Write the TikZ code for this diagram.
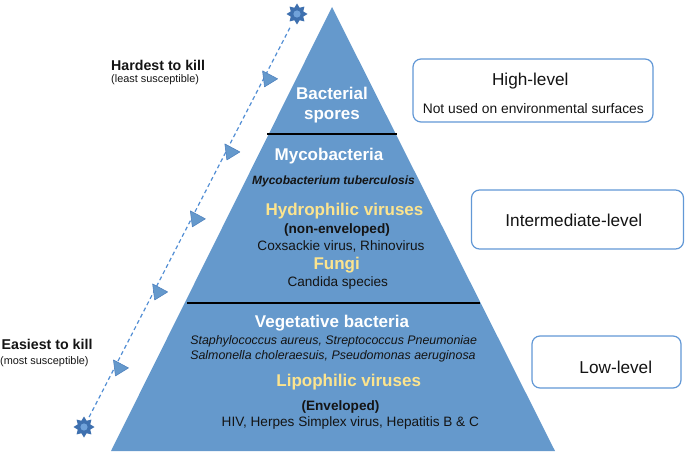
\documentclass[tikz,border=0pt]{standalone}
\usepackage{fontspec}
\setmainfont{Liberation Sans}
\usetikzlibrary{shapes.geometric,calc}
\definecolor{pyr}{RGB}{101,153,204}
\definecolor{pyredge}{RGB}{80,130,190}
\definecolor{yel}{RGB}{252,228,142}
\definecolor{boxb}{RGB}{98,152,214}
\definecolor{stard}{RGB}{62,112,175}
\definecolor{starl}{RGB}{112,162,218}
\definecolor{dashc}{RGB}{82,142,212}
\definecolor{txt}{RGB}{20,20,20}
\tikzset{
  lbl/.style={inner sep=0pt, anchor=base, text=txt},
  headw/.style={lbl, text=white, font=\fontsize{17}{20}\selectfont\bfseries},
  heady/.style={lbl, text=yel, font=\fontsize{17}{20}\selectfont\bfseries},
  spec/.style={lbl, font=\fontsize{12.4}{14}\selectfont\itshape},
  specb/.style={lbl, font=\fontsize{12}{14}\selectfont\bfseries\itshape},
  plain/.style={lbl, font=\fontsize{13.6}{16}\selectfont},
  plainb/.style={lbl, font=\fontsize{13.6}{16}\selectfont\bfseries},
  sidebig/.style={lbl, anchor=base west, font=\fontsize{14.2}{17}\selectfont\bfseries},
  sidesmall/.style={lbl, anchor=base west, font=\fontsize{10.9}{13}\selectfont},
  lvlbox/.style={draw=boxb, line width=1.2pt, rounded corners=8pt, fill=white, inner sep=0pt},
  lvltxt/.style={lbl, font=\fontsize{17.2}{20}\selectfont},
  lvlsub/.style={lbl, font=\fontsize{13.8}{16}\selectfont},
  divider/.style={black, line width=2pt},
  starshape/.style={star, star points=8, star point ratio=1.55, fill=stard, draw=none, minimum size=21pt, inner sep=0pt},
  dashline/.style={dashc, line width=1.2pt, dash pattern=on 4pt off 3pt},
  marker/.style={fill=pyr, draw=pyredge, line width=0.6pt, line join=round}
}
\begin{document}
\begin{tikzpicture}[x=1pt,y=-1pt]
\useasboundingbox (0,0) rectangle (685,454);

% pyramid
\fill[pyr] (332,7) -- (555,451) -- (111,451) -- cycle;
\draw[divider] (267,134) -- (397,134);
\draw[divider] (187,303) -- (480,303);

% pyramid texts
\node[headw] (bact) at (332,100) {Bacterial};
\node[headw] (spor) at (332,120) {spores};
\node[headw] (myco) at (329,160.5) {Mycobacteria};
\node[specb] (mtub) at (333.5,184.3) {Mycobacterium tuberculosis};
\node[heady] (hydro) at (344.5,216) {Hydrophilic viruses};
\node[plainb] (nonenv) at (337,233.3) {(non-enveloped)};
\node[plain] (coxs) at (341,250.7) {Coxsackie virus, Rhinovirus};
\node[heady] (fungi) at (336.7,269.3) {Fungi};
\node[plain] (cand) at (337.8,286.7) {Candida species};
\node[headw] (veg) at (332,327.7) {Vegetative bacteria};
\node[spec] (staph) at (333.7,344.3) {Staphylococcus aureus, Streptococcus Pneumoniae};
\node[spec] (salm) at (333,359.3) {Salmonella choleraesuis, Pseudomonas aeruginosa};
\node[heady] (lipo) at (348.7,386.7) {Lipophilic viruses};
\node[plainb] (env) at (340.5,410) {(Enveloped)};
\node[plain] (hiv) at (350.3,426.7) {HIV, Herpes Simplex virus, Hepatitis B \& C};

% side labels
\node[sidebig] (hard) at (111,70.7) {Hardest to kill};
\node[sidesmall] (least) at (111,82.7) {(least susceptible)};
\node[sidebig] (easy) at (1.5,349.3) {Easiest to kill};
\node[sidesmall] (most) at (0,364) {(most susceptible)};

% dashed scale with stars and markers
\node[starshape] (s1) at (297,14) {};
\node[starshape] (s2) at (84,427) {};
\fill[starl] (s1.center) circle (3.6pt);
\fill[starl] (s2.center) circle (3.6pt);
\draw[dashline, shorten <=8pt, shorten >=2pt] (s1) -- (s2);
\coordinate (m1) at ($(s1)!0.157!(s2)$);
\coordinate (m2) at ($(s1)!0.334!(s2)$);
\coordinate (m3) at ($(s1)!0.496!(s2)$);
\coordinate (m4) at ($(s1)!0.673!(s2)$);
\coordinate (m5) at ($(s1)!0.857!(s2)$);
\foreach \m in {m1,m2,m3,m4,m5}{
  \filldraw[marker, shift={(\m)}] (-1,-8) -- (14,0) -- (1,8) -- cycle;
}

% level boxes
\node[lvlbox, minimum width=240pt, minimum height=63pt] (hbox) at (533,90.5) {};
\node[lvltxt] (htxt) at (530.3,85.7) {High-level};
\node[lvlsub] (hsub) at (533.3,113.3) {Not used on environmental surfaces};
\node[lvlbox, minimum width=212pt, minimum height=59pt] (ibox) at (577.5,219.5) {};
\node[lvltxt] (itxt) at (573.8,226.7) {Intermediate-level};
\node[lvlbox, minimum width=149pt, minimum height=52pt] (lbox) at (606.5,362) {};
\node[lvltxt] (ltxt) at (615.8,373.3) {Low-level};
\end{tikzpicture}
\end{document}
